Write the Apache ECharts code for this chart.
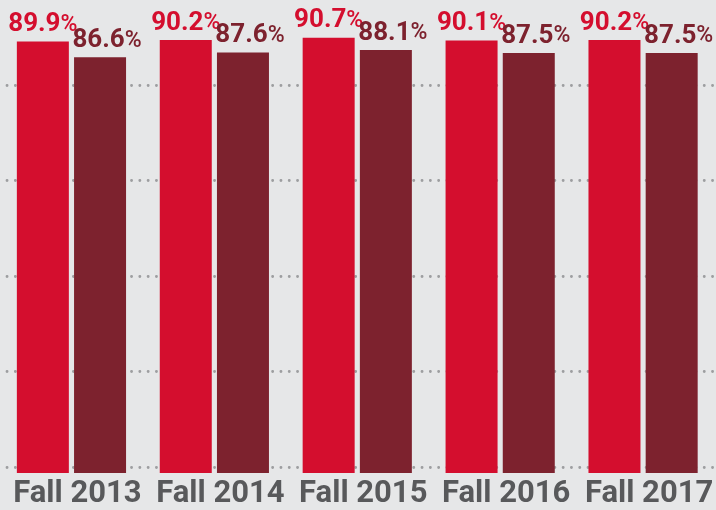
<!DOCTYPE html>
<html>
<head>
<meta charset="utf-8">
<script src="https://cdn.jsdelivr.net/npm/echarts@6/dist/echarts.min.js"></script>
<style>
  html, body { margin: 0; padding: 0; background: #e6e7e8; }
  #chart { width: 716px; height: 510px; }
</style>
</head>
<body>
<div id="chart"></div>
<script>
// 数据
const terms = ['Fall 2013', 'Fall 2014', 'Fall 2015', 'Fall 2016', 'Fall 2017'];
const firstValues = [89.9, 90.2, 90.7, 90.1, 90.2];
const secondValues = [86.6, 87.6, 88.1, 87.5, 87.5];
const guideTicks = [0, 1, 2, 3, 4];

const RED = '#d40e2e';
const MAROON = '#7d222e';

const chart = echarts.init(document.getElementById('chart'));

function pctLabel(color, offset) {
    return {
        show: true,
        position: 'top',
        distance: 4,
        offset: offset,
        formatter: (p) => '{n|' + p.value.toFixed(1) + '}{p|%}',
        rich: {
            n: { fontFamily: 'Roboto', fontWeight: 'bold', fontSize: 26, color: color },
            p: { fontFamily: 'Roboto', fontWeight: 500, fontSize: 23, color: color, padding: [1, 0, 0, 0] }
        }
    };
}

const option = {
    backgroundColor: '#e6e7e8',
    animation: false,
    grid: [
        { left: 0, right: -1, top: 17, bottom: 36 },
        // 装饰用的点状横线
        { left: 0, right: 0, top: 85, bottom: 43 }
    ],
    xAxis: [
        {
            type: 'category',
            gridIndex: 0,
            data: terms,
            axisLine: { show: false },
            axisTick: { show: false },
            axisLabel: {
                interval: 0,
                margin: 6,
                padding: [0, 0, 0, 12],
                fontFamily: 'Roboto',
                fontWeight: 'bold',
                fontSize: 31,
                color: '#58595b'
            }
        },
        { type: 'value', gridIndex: 1, min: 0, max: 1, show: false }
    ],
    yAxis: [
        {
            type: 'value',
            gridIndex: 0,
            min: 0,
            max: 95,
            show: false
        },
        {
            type: 'value',
            gridIndex: 1,
            min: guideTicks[0],
            max: guideTicks[guideTicks.length - 1],
            interval: 1,
            axisLine: { show: false },
            axisTick: { show: false },
            axisLabel: { show: false },
            splitLine: {
                show: true,
                lineStyle: { color: '#9d9ea0', width: 2.8, type: [0.1, 8.2], cap: 'round', dashOffset: -7 }
            }
        }
    ],
    series: [
        {
            type: 'bar',
            xAxisIndex: 0,
            yAxisIndex: 0,
            data: firstValues,
            barWidth: 52,
            barGap: '10%',
            itemStyle: { color: RED },
            label: pctLabel(RED, [0, 0])
        },
        {
            type: 'bar',
            xAxisIndex: 0,
            yAxisIndex: 0,
            data: secondValues,
            barWidth: 52,
            barGap: '10%',
            itemStyle: { color: MAROON },
            label: pctLabel(MAROON, [7, 0])
        }
    ]
};

chart.setOption(option);
</script>
</body>
</html>
